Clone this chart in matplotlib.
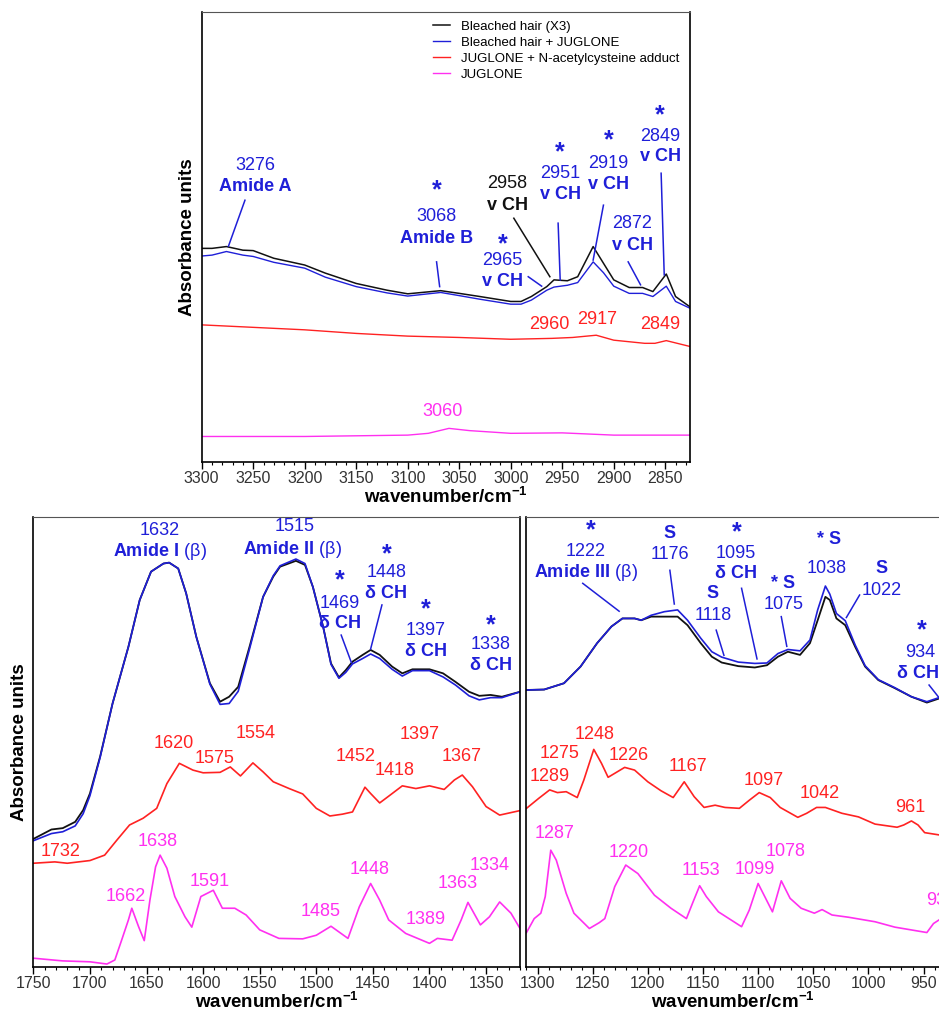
import matplotlib
matplotlib.use("Agg")
import matplotlib.pyplot as plt
from matplotlib.ticker import MultipleLocator

plt.rcParams['font.family'] = ['Liberation Sans', 'DejaVu Sans']
plt.rcParams['mathtext.fontset'] = 'custom'
plt.rcParams['mathtext.rm'] = 'Liberation Sans'
plt.rcParams['mathtext.bf'] = 'Liberation Sans:bold'

BLACK = '#111111'
BLUE = '#1f1fd8'
RED = '#ff2222'
MAGENTA = '#ff30f0'

# ---- top panel: 3300-2826 cm-1 (absorbance in arbitrary units)
top_wn_hair = [3300, 3290, 3276, 3260, 3250, 3230, 3200, 3180, 3150, 3120, 3100, 3068, 3050, 3030,
               3000, 2990, 2980, 2965, 2958, 2945, 2935, 2920, 2910, 2900, 2885, 2872, 2862, 2849,
               2840, 2826]
top_black = [47.4, 47.4, 47.8, 47.0, 46.9, 45.2, 43.7, 41.9, 39.6, 38.1, 37.3, 38.0, 37.4, 36.7,
             35.6, 35.6, 36.7, 38.9, 40.4, 40.2, 41.1, 47.8, 44.1, 40.4, 38.7, 38.7, 37.8, 41.7,
             36.7, 34.4]
top_blue = [45.7, 45.9, 46.7, 45.9, 45.6, 44.3, 43.0, 41.0, 38.9, 37.5, 36.8, 37.6, 36.9, 36.1,
            35.0, 35.0, 35.9, 38.1, 38.8, 39.2, 39.8, 44.4, 42.0, 39.0, 37.4, 37.4, 36.7, 39.0,
            35.6, 34.1]
top_wn_adduct = [3300, 3200, 3150, 3100, 3050, 3000, 2960, 2940, 2917, 2900, 2870, 2860, 2849, 2826]
top_adduct = [30.4, 29.3, 28.5, 27.9, 27.6, 27.2, 27.4, 27.6, 28.1, 27.0, 26.3, 26.3, 26.9, 25.6]
top_wn_juglone = [3300, 3200, 3100, 3080, 3060, 3040, 3000, 2950, 2900, 2826]
top_juglone = [5.6, 5.6, 5.9, 6.3, 7.4, 6.9, 6.3, 6.4, 5.9, 5.9]

# ---- bottom left panel: 1750-1320 cm-1
bl_wn_hair = [1750, 1734, 1724, 1713, 1706, 1700, 1691, 1680, 1666, 1656, 1646, 1635, 1630, 1622,
              1615, 1606, 1594, 1585, 1577, 1569, 1559, 1547, 1538, 1532, 1518, 1510, 1503, 1494,
              1487, 1480, 1474, 1468, 1459, 1452, 1444, 1433, 1424, 1415, 1400, 1388, 1377, 1365,
              1356, 1346, 1336, 1320]
bl_black = [28.4, 30.5, 30.8, 32.2, 34.8, 38.5, 46.7, 58.5, 71.1, 81.5, 87.8, 89.6, 89.8, 88.5,
            83.0, 73.3, 63.0, 58.9, 60.0, 62.2, 71.1, 82.2, 86.7, 88.9, 90.2, 89.3, 84.4, 75.6,
            67.4, 64.3, 65.9, 67.8, 69.3, 70.4, 69.3, 66.7, 65.2, 66.1, 66.1, 65.2, 63.3, 61.1,
            60.2, 60.4, 60.0, 61.1]
bl_blue = [28.0, 29.6, 30.0, 31.3, 34.0, 38.0, 46.5, 58.5, 71.1, 81.5, 87.8, 89.6, 89.8, 88.5,
           83.0, 73.3, 62.8, 58.3, 58.5, 61.2, 70.6, 82.2, 86.9, 89.1, 90.6, 89.6, 84.4, 75.6,
           67.2, 64.1, 65.4, 67.3, 68.5, 69.5, 68.5, 66.1, 64.6, 65.8, 65.8, 64.4, 62.6, 60.2,
           59.3, 59.8, 59.8, 61.1]
bl_wn_adduct = [1750, 1731, 1720, 1700, 1687, 1676, 1665, 1653, 1641, 1632, 1621, 1609, 1600, 1585,
                1576, 1567, 1556, 1547, 1538, 1524, 1512, 1500, 1488, 1477, 1468, 1457, 1452, 1444,
                1435, 1424, 1412, 1400, 1387, 1378, 1371, 1362, 1350, 1338, 1320]
bl_adduct = [23.0, 23.3, 23.0, 23.6, 24.8, 28.2, 31.5, 33.0, 35.2, 40.7, 45.2, 43.7, 43.1, 43.2,
             44.4, 42.4, 45.3, 43.3, 41.1, 39.6, 38.4, 35.2, 33.5, 33.9, 34.4, 39.9, 38.5, 36.4,
             38.1, 40.2, 39.6, 40.2, 39.4, 41.5, 42.6, 40.0, 35.6, 33.7, 34.7]
bl_wn_juglone = [1750, 1724, 1700, 1685, 1678, 1672, 1666, 1663, 1657, 1652, 1647, 1642, 1638, 1632,
                 1625, 1616, 1610, 1602, 1591, 1583, 1572, 1562, 1550, 1533, 1512, 1500, 1487, 1472,
                 1462, 1452, 1444, 1436, 1421, 1400, 1393, 1380, 1372, 1366, 1355, 1347, 1338, 1328,
                 1320]
bl_juglone = [1.9, 1.3, 1.1, 0.6, 1.5, 5.9, 10.4, 13.0, 8.9, 5.8, 14.8, 22.2, 24.8, 21.9,
              15.6, 11.1, 8.8, 15.6, 17.0, 13.0, 13.0, 11.5, 8.2, 6.3, 6.2, 7.0, 9.0, 6.3,
              13.3, 18.5, 14.8, 10.4, 7.4, 5.2, 6.3, 5.9, 10.4, 14.3, 9.3, 11.1, 14.4, 11.9,
              8.5]

# ---- bottom right panel: 1310-936 cm-1
br_wn_hair = [1310, 1294, 1276, 1261, 1246, 1233, 1223, 1212, 1206, 1197, 1185, 1173, 1164, 1152,
              1142, 1133, 1118, 1103, 1092, 1082, 1073, 1062, 1053, 1046, 1039, 1035, 1029, 1021,
              1012, 1003, 991, 976, 961, 947, 936]
br_black = [61.5, 61.6, 63.0, 66.7, 71.9, 75.6, 77.4, 77.4, 77.0, 77.8, 77.8, 77.8, 75.9, 71.9,
            68.9, 67.6, 66.8, 66.5, 67.0, 68.9, 70.0, 69.3, 71.9, 77.0, 82.2, 81.5, 77.4, 75.9,
            71.1, 66.7, 63.7, 61.9, 60.0, 58.7, 59.6]
br_blue = [61.5, 61.6, 63.0, 66.7, 71.9, 75.6, 77.4, 77.4, 77.0, 78.1, 78.9, 79.3, 77.0, 73.0,
           70.0, 68.8, 67.7, 67.4, 67.5, 69.6, 70.5, 70.2, 72.6, 79.3, 84.6, 82.8, 78.5, 76.9,
           71.5, 66.9, 63.8, 62.0, 60.0, 58.9, 59.8]
br_wn_adduct = [1310, 1299, 1289, 1282, 1274, 1264, 1258, 1249, 1242, 1236, 1221, 1212, 1200, 1188,
                1177, 1167, 1158, 1149, 1139, 1130, 1117, 1108, 1099, 1089, 1080, 1064, 1056, 1047,
                1039, 1024, 1009, 994, 974, 968, 961, 955, 949, 936]
br_adduct = [35.2, 37.4, 39.3, 38.7, 38.9, 37.6, 41.5, 48.3, 45.2, 42.1, 44.3, 43.7, 41.1, 39.1,
             37.6, 41.1, 37.8, 35.4, 35.9, 35.4, 35.2, 37.0, 38.7, 37.6, 35.4, 33.2, 34.1, 35.4,
             35.4, 34.1, 33.3, 31.7, 31.0, 31.5, 32.4, 31.5, 29.8, 29.3]
br_wn_juglone = [1310, 1303, 1297, 1293, 1288, 1283, 1274, 1267, 1253, 1244, 1239, 1230, 1220, 1209,
                 1194, 1179, 1165, 1159, 1153, 1147, 1136, 1115, 1108, 1100, 1094, 1087, 1079, 1071,
                 1061, 1049, 1042, 1033, 1018, 994, 976, 947, 941, 936]
br_juglone = [7.6, 10.7, 11.9, 15.6, 25.9, 23.7, 16.3, 11.9, 8.5, 9.8, 10.7, 17.8, 22.6, 20.7,
              15.9, 13.0, 10.7, 14.4, 18.0, 15.6, 12.2, 8.9, 12.6, 18.5, 15.6, 12.2, 19.1, 15.2,
              13.0, 11.9, 12.7, 11.5, 11.0, 10.0, 8.8, 7.6, 9.6, 10.4]

X_LABEL = r'$\mathbf{wavenumber/cm^{-1}}$'
ANN = 13

fig = plt.figure(figsize=(9.39, 10.14), dpi=100)
ax_top = fig.add_axes([0.2148, 0.5447, 0.5200, 0.4438])
ax_bl = fig.add_axes([0.0355, 0.0466, 0.5183, 0.4438])
ax_br = fig.add_axes([0.5607, 0.0466, 0.4393, 0.4438])


def style_axis(ax, xlim):
    ax.set_xlim(*xlim)
    ax.set_ylim(0, 100)
    ax.xaxis.set_major_locator(MultipleLocator(50))
    ax.xaxis.set_minor_locator(MultipleLocator(10))
    ax.tick_params(axis='x', which='major', direction='out', length=5, width=1,
                   labelsize=11.5, labelcolor='#333333', pad=2)
    ax.tick_params(axis='x', which='minor', direction='out', length=2.5, width=0.8)
    ax.set_yticks([])
    for sp in ax.spines.values():
        sp.set_linewidth(1.2)
    ax.spines['top'].set_color('#555555')
    ax.spines['top'].set_linewidth(0.8)
    ax.set_xlabel(X_LABEL, fontsize=13.5, labelpad=0.5)


def label(ax, wn, val, txt, color, bold=False, size=ANN, ha='center'):
    ax.text(wn, val, txt, color=color, fontsize=size, ha=ha, va='center',
            fontweight='bold' if bold else 'normal', clip_on=False)


def star(ax, wn, val):
    ax.text(wn, val, '*', color=BLUE, fontsize=18, ha='center', va='center',
            fontweight='bold', clip_on=False)


def pointer(ax, x0, y0, x1, y1, color=BLUE):
    ax.plot([x0, x1], [y0, y1], color=color, lw=1.1)


# ---------------- top panel
ax = ax_top
ax.plot(top_wn_hair, top_black, color=BLACK, lw=1.1, label='Bleached hair (X3)')
ax.plot(top_wn_hair, top_blue, color=BLUE, lw=1.0, label='Bleached hair + JUGLONE')
ax.plot(top_wn_adduct, top_adduct, color=RED, lw=1.0, label='JUGLONE + N-acetylcysteine adduct')
ax.plot(top_wn_juglone, top_juglone, color=MAGENTA, lw=1.0, label='JUGLONE')
style_axis(ax, (3300, 2826))
ax.set_ylabel('Absorbance units', fontsize=13.5, fontweight='bold', labelpad=4)
ax.legend(loc='upper left', bbox_to_anchor=(0.461, 0.980), bbox_transform=fig.transFigure,
          frameon=False, fontsize=9.5, handlelength=1.3, handletextpad=0.8,
          labelspacing=0.3, borderpad=0, borderaxespad=0)

label(ax, 3248, 65.9, '3276', BLUE)
label(ax, 3248, 61.1, 'Amide A', BLUE, bold=True)
pointer(ax, 3258, 58.1, 3274, 47.9)
star(ax, 3072, 60.2)
label(ax, 3072, 54.4, '3068', BLUE)
label(ax, 3072, 49.6, 'Amide B', BLUE, bold=True)
pointer(ax, 3072, 44.4, 3069, 38.9)
star(ax, 3008, 48.3)
label(ax, 3008, 44.6, '2965', BLUE)
label(ax, 3008, 40.0, 'v CH', BLUE, bold=True)
pointer(ax, 2983, 41.1, 2970, 39.0)
label(ax, 3003, 61.9, '2958', BLACK)
label(ax, 3003, 57.0, 'v CH', BLACK, bold=True)
pointer(ax, 2997, 54.1, 2962, 41.1, BLACK)
star(ax, 2952, 68.8)
label(ax, 2952, 64.1, '2951', BLUE)
label(ax, 2952, 59.3, 'v CH', BLUE, bold=True)
pointer(ax, 2954, 53.0, 2952, 40.4)
star(ax, 2905, 71.4)
label(ax, 2905, 66.3, '2919', BLUE)
label(ax, 2905, 61.5, 'v CH', BLUE, bold=True)
pointer(ax, 2910, 57.0, 2920, 44.8)
label(ax, 2882, 53.0, '2872', BLUE)
label(ax, 2882, 48.1, 'v CH', BLUE, bold=True)
pointer(ax, 2886, 44.4, 2874, 39.3)
star(ax, 2855, 76.9)
label(ax, 2855, 72.2, '2849', BLUE)
label(ax, 2855, 67.8, 'v CH', BLUE, bold=True)
pointer(ax, 2854, 64.1, 2851, 41.5)
label(ax, 2963, 30.4, '2960', RED)
label(ax, 2916, 31.5, '2917', RED)
label(ax, 2855, 30.4, '2849', RED)
label(ax, 3066, 11.1, '3060', MAGENTA)

# ---------------- bottom left panel
ax = ax_bl
ax.plot(bl_wn_hair, bl_black, color=BLACK, lw=1.3)
ax.plot(bl_wn_hair, bl_blue, color=BLUE, lw=1.2)
ax.plot(bl_wn_adduct, bl_adduct, color=RED, lw=1.2)
ax.plot(bl_wn_juglone, bl_juglone, color=MAGENTA, lw=1.2)
style_axis(ax, (1750, 1320))
ax.set_ylabel('Absorbance units', fontsize=13.5, fontweight='bold', labelpad=4)

label(ax, 1638, 97.0, '1632', BLUE)
label(ax, 1638, 92.2, r'$\mathbf{Amide\ I}$ (β)', BLUE)
label(ax, 1519, 97.8, '1515', BLUE)
label(ax, 1521, 92.7, r'$\mathbf{Amide\ II}$ (β)', BLUE)
star(ax, 1479, 85.8)
label(ax, 1479, 80.7, '1469', BLUE)
label(ax, 1479, 76.3, 'δ CH', BLUE, bold=True)
pointer(ax, 1478, 73.7, 1469, 67.6)
star(ax, 1438, 91.7)
label(ax, 1438, 87.6, '1448', BLUE)
label(ax, 1438, 83.0, 'δ CH', BLUE, bold=True)
pointer(ax, 1442, 80.4, 1452, 70.6)
star(ax, 1403, 79.5)
label(ax, 1403, 74.8, '1397', BLUE)
label(ax, 1403, 70.0, 'δ CH', BLUE, bold=True)
star(ax, 1346, 75.8)
label(ax, 1346, 71.5, '1338', BLUE)
label(ax, 1346, 67.0, 'δ CH', BLUE, bold=True)
for wn, val, txt in [(1726, 25.6, '1732'), (1626, 49.6, '1620'), (1590, 46.3, '1575'),
                     (1554, 51.9, '1554'), (1465, 46.7, '1452'), (1431, 43.7, '1418'),
                     (1409, 51.5, '1397'), (1372, 46.7, '1367')]:
    label(ax, wn, val, txt, RED)
for wn, val, txt in [(1668, 15.6, '1662'), (1640, 27.8, '1638'), (1594, 18.9, '1591'),
                     (1496, 12.2, '1485'), (1453, 21.5, '1448'), (1403, 10.4, '1389'),
                     (1375, 18.5, '1363'), (1347, 22.6, '1334')]:
    label(ax, wn, val, txt, MAGENTA)

# ---------------- bottom right panel
ax = ax_br
ax.plot(br_wn_hair, br_black, color=BLACK, lw=1.3)
ax.plot(br_wn_hair, br_blue, color=BLUE, lw=1.2)
ax.plot(br_wn_adduct, br_adduct, color=RED, lw=1.2)
ax.plot(br_wn_juglone, br_juglone, color=MAGENTA, lw=1.2)
style_axis(ax, (1310, 936))
ax.spines['right'].set_visible(False)

star(ax, 1252, 96.9)
label(ax, 1256, 92.2, '1222', BLUE)
label(ax, 1256, 87.6, r'$\mathbf{Amide\ III}$ (β)', BLUE)
pointer(ax, 1259, 85.2, 1226, 79.0)
label(ax, 1180, 96.3, 'S', BLUE, bold=True)
label(ax, 1180, 91.5, '1176', BLUE)
pointer(ax, 1180, 88.1, 1176, 80.6)
star(ax, 1119, 96.5)
label(ax, 1120, 91.9, '1095', BLUE)
label(ax, 1120, 87.4, 'δ CH', BLUE, bold=True)
pointer(ax, 1115, 84.1, 1101, 68.4)
label(ax, 1141, 83.0, 'S', BLUE, bold=True)
label(ax, 1141, 78.1, '1118', BLUE)
pointer(ax, 1138, 74.8, 1131, 69.2)
label(ax, 1077, 85.2, '* S', BLUE, bold=True)
label(ax, 1077, 80.4, '1075', BLUE)
pointer(ax, 1079, 77.8, 1074, 71.2)
label(ax, 1036, 95.0, '* S', BLUE, bold=True)
label(ax, 1038, 88.5, '1038', BLUE)
label(ax, 988, 88.5, 'S', BLUE, bold=True)
label(ax, 988, 83.7, '1022', BLUE)
pointer(ax, 1008, 82.6, 1020, 77.6)
star(ax, 952, 74.7)
label(ax, 953, 69.8, '934', BLUE)
label(ax, 955, 65.2, 'δ CH', BLUE, bold=True)
pointer(ax, 945, 62.6, 936, 59.8)
for wn, val, txt in [(1289, 42.2, '1289'), (1280, 47.3, '1275'), (1248, 51.5, '1248'),
                     (1217, 47.0, '1226'), (1164, 44.4, '1167'), (1095, 41.3, '1097'),
                     (1044, 38.4, '1042'), (962, 35.4, '961')]:
    label(ax, wn, val, txt, RED)
for wn, val, txt in [(1285, 29.6, '1287'), (1217, 25.4, '1220'), (1152, 21.3, '1153'),
                     (1103, 21.5, '1099'), (1075, 25.6, '1078')]:
    label(ax, wn, val, txt, MAGENTA)
label(ax, 948, 14.8, '936', MAGENTA, ha='left')

fig.savefig('out.png', dpi=100)
